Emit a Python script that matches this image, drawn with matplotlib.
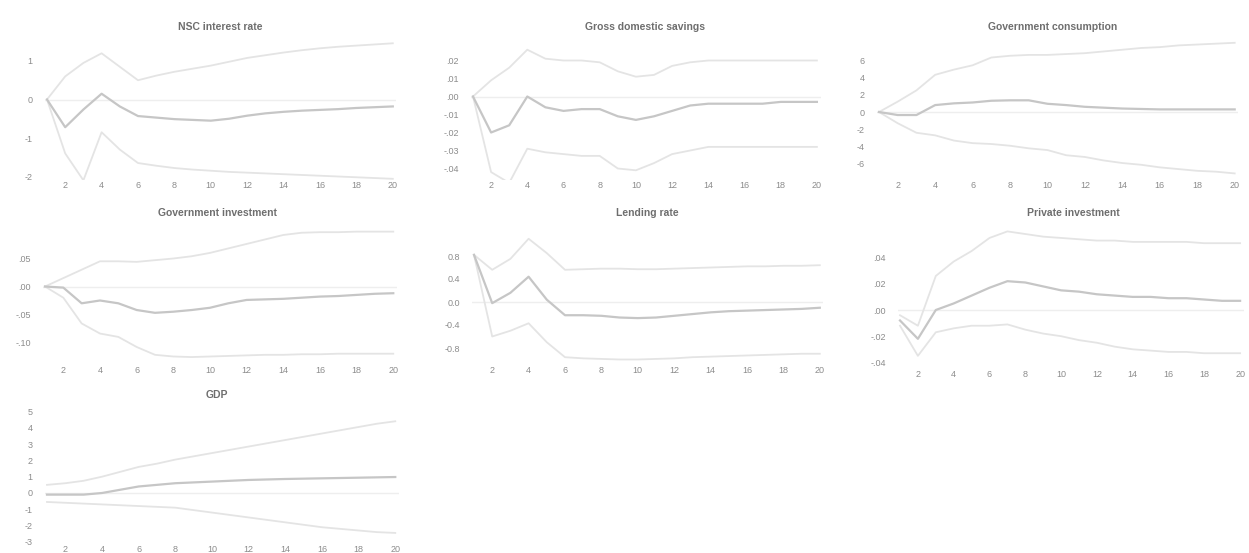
import matplotlib
matplotlib.use("Agg")
import matplotlib.pyplot as plt

plt.rcParams['font.family'] = ['Liberation Sans', 'DejaVu Sans']

# horizon (periods)
periods = list(range(1, 21))
xticks = [2, 4, 6, 8, 10, 12, 14, 16, 18, 20]

# NSC interest rate
nsc_mid = [0, -0.72, -0.26, 0.15, -0.18, -0.43, -0.47, -0.51, -0.53, -0.55,
           -0.5, -0.42, -0.36, -0.32, -0.29, -0.27, -0.25, -0.22, -0.2, -0.18]
nsc_up = [0, 0.6, 0.95, 1.2, 0.85, 0.5, 0.62, 0.72, 0.8, 0.88,
          0.98, 1.08, 1.15, 1.22, 1.28, 1.33, 1.37, 1.4, 1.43, 1.46]
nsc_lo = [0, -1.4, -2.1, -0.85, -1.3, -1.65, -1.72, -1.78, -1.82, -1.85,
          -1.88, -1.9, -1.92, -1.94, -1.96, -1.98, -2.0, -2.02, -2.04, -2.06]
nsc_yt = [1, 0, -1, -2]
nsc_yl = ['1', '0', '-1', '-2']

# Gross domestic savings
gds_mid = [0, -0.02, -0.016, 0.0, -0.006, -0.008, -0.007, -0.007, -0.011, -0.013,
           -0.011, -0.008, -0.005, -0.004, -0.004, -0.004, -0.004, -0.003, -0.003, -0.003]
gds_up = [0, 0.009, 0.016, 0.026, 0.021, 0.02, 0.02, 0.019, 0.014, 0.011,
          0.012, 0.017, 0.019, 0.02, 0.02, 0.02, 0.02, 0.02, 0.02, 0.02]
gds_lo = [0, -0.042, -0.048, -0.029, -0.031, -0.032, -0.033, -0.033, -0.04, -0.041,
          -0.037, -0.032, -0.03, -0.028, -0.028, -0.028, -0.028, -0.028, -0.028, -0.028]
gds_yt = [0.02, 0.01, 0.0, -0.01, -0.02, -0.03, -0.04]
gds_yl = ['.02', '.01', '.00', '-.01', '-.02', '-.03', '-.04']

# Government consumption
gc_mid = [0, -0.35, -0.35, 0.8, 1.0, 1.1, 1.3, 1.35, 1.35, 0.95,
          0.8, 0.6, 0.5, 0.4, 0.35, 0.3, 0.3, 0.3, 0.3, 0.3]
gc_up = [0, 1.2, 2.5, 4.3, 4.9, 5.4, 6.3, 6.5, 6.6, 6.6,
         6.7, 6.8, 7.0, 7.2, 7.4, 7.5, 7.7, 7.8, 7.9, 8.0]
gc_lo = [0, -1.3, -2.4, -2.7, -3.3, -3.6, -3.7, -3.9, -4.2, -4.4,
         -5.0, -5.2, -5.6, -5.9, -6.1, -6.4, -6.6, -6.8, -6.9, -7.1]
gc_yt = [6, 4, 2, 0, -2, -4, -6]
gc_yl = ['6', '4', '2', '0', '-2', '-4', '-6']

# Government investment
gi_mid = [0, -0.002, -0.03, -0.025, -0.03, -0.042, -0.047, -0.045, -0.042, -0.038,
          -0.03, -0.024, -0.023, -0.022, -0.02, -0.018, -0.017, -0.015, -0.013, -0.012]
gi_up = [0, 0.015, 0.03, 0.045, 0.045, 0.044, 0.047, 0.05, 0.054, 0.06,
         0.068, 0.076, 0.084, 0.092, 0.096, 0.097, 0.097, 0.098, 0.098, 0.098]
gi_lo = [0, -0.02, -0.066, -0.084, -0.09, -0.108, -0.122, -0.125, -0.126, -0.125,
         -0.124, -0.123, -0.122, -0.122, -0.121, -0.121, -0.12, -0.12, -0.12, -0.12]
gi_yt = [0.05, 0.0, -0.05, -0.10]
gi_yl = ['.05', '.00', '-.05', '-.10']

# Lending rate
lr_mid = [0.82, -0.02, 0.16, 0.44, 0.04, -0.23, -0.23, -0.24, -0.27, -0.28,
          -0.27, -0.24, -0.21, -0.18, -0.16, -0.15, -0.14, -0.13, -0.12, -0.1]
lr_up = [0.82, 0.56, 0.75, 1.1, 0.85, 0.56, 0.57, 0.58, 0.58, 0.57,
         0.57, 0.58, 0.59, 0.6, 0.61, 0.62, 0.62, 0.63, 0.63, 0.64]
lr_lo = [0.82, -0.6, -0.5, -0.37, -0.7, -0.96, -0.98, -0.99, -1.0, -1.0,
         -0.99, -0.98, -0.96, -0.95, -0.94, -0.93, -0.92, -0.91, -0.9, -0.9]
lr_yt = [0.8, 0.4, 0.0, -0.4, -0.8]
lr_yl = ['0.8', '0.4', '0.0', '-0.4', '-0.8']

# Private investment
pi_mid = [-0.008, -0.022, 0.0, 0.005, 0.011, 0.017, 0.022, 0.021, 0.018, 0.015,
          0.014, 0.012, 0.011, 0.01, 0.01, 0.009, 0.009, 0.008, 0.007, 0.007]
pi_up = [-0.004, -0.012, 0.026, 0.037, 0.045, 0.055, 0.06, 0.058, 0.056, 0.055,
         0.054, 0.053, 0.053, 0.052, 0.052, 0.052, 0.052, 0.051, 0.051, 0.051]
pi_lo = [-0.012, -0.035, -0.017, -0.014, -0.012, -0.012, -0.011, -0.015, -0.018, -0.02,
         -0.023, -0.025, -0.028, -0.03, -0.031, -0.032, -0.032, -0.033, -0.033, -0.033]
pi_yt = [0.04, 0.02, 0.0, -0.02, -0.04]
pi_yl = ['.04', '.02', '.00', '-.02', '-.04']

# GDP
gdp_mid = [-0.1, -0.1, -0.1, 0.0, 0.2, 0.4, 0.5, 0.6, 0.65, 0.7,
           0.75, 0.8, 0.83, 0.86, 0.88, 0.9, 0.92, 0.94, 0.96, 0.98]
gdp_up = [0.5, 0.6, 0.75, 1.0, 1.3, 1.6, 1.8, 2.05, 2.25, 2.45,
          2.65, 2.85, 3.05, 3.25, 3.45, 3.65, 3.85, 4.05, 4.25, 4.4]
gdp_lo = [-0.55, -0.6, -0.65, -0.7, -0.75, -0.8, -0.85, -0.9, -1.05, -1.2,
          -1.35, -1.5, -1.65, -1.8, -1.95, -2.1, -2.2, -2.3, -2.4, -2.45]
gdp_yt = [5, 4, 3, 2, 1, 0, -1, -2, -3]
gdp_yl = ['5', '4', '3', '2', '1', '0', '-1', '-2', '-3']

W, H = 1249, 553
fig = plt.figure(figsize=(W / 100, H / 100), dpi=100)

MID = '#c6c6c6'
BAND = '#e4e4e4'
TXT = '#8c8c8c'

# title, series, ticks, layout in pixels: x of period 1, px per period,
# pixel y of zero, px per unit, axes top/bottom, title centre, x-label pad
panels = [
    ("NSC interest rate", nsc_mid, nsc_up, nsc_lo, nsc_yt, nsc_yl,
     47, 18.2, 99.5, 38.5, 39, 180, 220, 27, 1),
    ("Gross domestic savings", gds_mid, gds_up, gds_lo, gds_yt, gds_yl,
     473, 18.1, 96.5, 1800, 39, 180, 645, 27, 1),
    ("Government consumption", gc_mid, gc_up, gc_lo, gc_yt, gc_yl,
     879, 18.72, 112, 8.65, 39, 180, 1053, 27, 1),
    ("Government investment", gi_mid, gi_up, gi_lo, gi_yt, gi_yl,
     45, 18.33, 286.5, 560, 230, 362, 217, 213, 3),
    ("Lending rate", lr_mid, lr_up, lr_lo, lr_yt, lr_yl,
     474, 18.2, 302, 57.5, 230, 362, 647, 213, 3),
    ("Private investment", pi_mid, pi_up, pi_lo, pi_yt, pi_yl,
     900, 17.9, 310, 1310, 230, 366, 1073, 213, 3),
    ("GDP", gdp_mid, gdp_up, gdp_lo, gdp_yt, gdp_yl,
     47, 18.33, 493, 16.3, 405, 544, 217, 395, 0.5),
]

for (title, mid, up, lo, yt, yl, x1, ux, y0, sy, top, bot, tcx, tcy, xpad) in panels:
    left = x1 - 0.1 * ux
    right = x1 + 19.2 * ux
    ax = fig.add_axes([left / W, 1 - bot / H, (right - left) / W, (bot - top) / H])
    ax.set_xlim(0.9, 20.2)
    ax.set_ylim((y0 - bot) / sy, (y0 - top) / sy)
    ax.axhline(0, color='#eeeeee', lw=1.0, zorder=1)
    ax.plot(periods, up, color=BAND, lw=1.3, zorder=2)
    ax.plot(periods, lo, color=BAND, lw=1.3, zorder=2)
    ax.plot(periods, mid, color=MID, lw=1.6, zorder=3)
    ax.set_xticks(xticks)
    ax.set_xticklabels([str(t) for t in xticks])
    ax.set_yticks(yt)
    ax.set_yticklabels(yl)
    ax.tick_params(axis='x', length=0, pad=xpad, labelsize=6.5, colors=TXT)
    ax.tick_params(axis='y', length=0, pad=9, labelsize=6.5, colors=TXT)
    for s in ax.spines.values():
        s.set_visible(False)
    ax.patch.set_alpha(0)
    fig.text(tcx / W, 1 - tcy / H, title, ha='center', va='center',
             fontsize=7.5, fontweight='bold', color='#6e6e6e')

fig.savefig('out.png', dpi=100)
